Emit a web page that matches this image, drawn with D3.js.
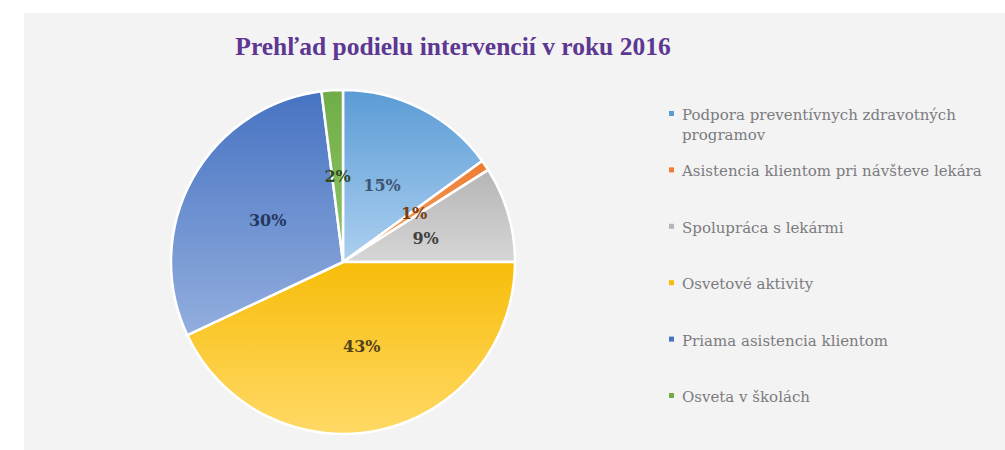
<!DOCTYPE html>
<html>
<head>
<meta charset="utf-8">
<script src="https://cdn.jsdelivr.net/npm/d3@7"></script>
<style>
  body { margin: 0; background: #fff; }
</style>
</head>
<body>
<script>
const categories = [
  'Podpora preventívnych zdravotných programov',
  'Asistencia klientom pri návšteve lekára',
  'Spolupráca s lekármi',
  'Osvetové aktivity',
  'Priama asistencia klientom',
  'Osveta v školách'
];
const values = [15, 1, 9, 43, 30, 2];
const legendLines = [
  ['Podpora preventívnych zdravotných', 'programov'],
  ['Asistencia klientom pri návšteve lekára'],
  ['Spolupráca s lekármi'],
  ['Osvetové aktivity'],
  ['Priama asistencia klientom'],
  ['Osveta v školách']
];

const width = 1005;
const height = 450;
const cx = 343;
const cy = 262;
const radius = 172;

// slice colours: [top, bottom, label]
const colors = [
  ['#5b9bd5', '#acd0f0', '#3d5573'],
  ['#ed7d31', '#f4a26b', '#7a3a10'],
  ['#b5b5b5', '#d6d6d6', '#404040'],
  ['#f7bd0a', '#ffd966', '#54421a'],
  ['#4673c2', '#93aede', '#22385e'],
  ['#70ad47', '#8fc568', '#2f4a1e']
];

const svg = d3.select('body')
  .append('svg')
  .attr('width', width)
  .attr('height', height);

// BACKGROUND
svg.append('rect')
  .attr('x', 24)
  .attr('y', 13)
  .attr('width', width - 24)
  .attr('height', height - 13)
  .attr('fill', '#f3f3f3');

// TITLE
svg.append('text')
  .attr('x', 453)
  .attr('y', 55)
  .attr('text-anchor', 'middle')
  .style('font-family', '"Liberation Serif", "DejaVu Serif", serif')
  .style('font-weight', 'bold')
  .style('font-size', '25.5px')
  .style('fill', '#5d3791')
  .text('Prehľad podielu intervencií v roku 2016');

// GRADIENTS
const defs = svg.append('defs');
colors.forEach((c, i) => {
  const g = defs.append('linearGradient')
    .attr('id', 'grad' + i)
    .attr('x1', 0).attr('y1', 0)
    .attr('x2', 0).attr('y2', 1);
  g.append('stop').attr('offset', '0%').attr('stop-color', c[0]);
  g.append('stop').attr('offset', '100%').attr('stop-color', c[1]);
});

// PIE
const pie = d3.pie().sort(null).value(d => d);
const arcs = pie(values);
const arc = d3.arc().innerRadius(0).outerRadius(radius);
const labelArc = d3.arc().innerRadius(radius * 0.5).outerRadius(radius * 0.5);

const g = svg.append('g').attr('transform', `translate(${cx},${cy})`);

g.selectAll('path')
  .data(arcs)
  .enter()
  .append('path')
  .attr('d', arc)
  .attr('fill', (d, i) => `url(#grad${i})`)
  .attr('stroke', '#ffffff')
  .attr('stroke-width', 2.5)
  .attr('stroke-linejoin', 'round');

g.selectAll('text')
  .data(arcs)
  .enter()
  .append('text')
  .attr('transform', d => `translate(${labelArc.centroid(d)})`)
  .attr('text-anchor', 'middle')
  .attr('dy', '0.35em')
  .style('font-family', '"DejaVu Serif", serif')
  .style('font-weight', 'bold')
  .style('font-size', '16px')
  .style('fill', (d, i) => colors[i][2])
  .text(d => d.data + '%');

// LEGEND
const legendX = 672;
const rowY = d3.scalePoint()
  .domain(categories)
  .range([120, 402]);

const legend = svg.append('g');
categories.forEach((c, i) => {
  const y = rowY(c);
  legend.append('rect')
    .attr('x', legendX - 3)
    .attr('y', y - 9)
    .attr('width', 5)
    .attr('height', 5)
    .attr('fill', colors[i][0]);
  legendLines[i].forEach((line, j) => {
    legend.append('text')
      .attr('x', legendX + 10)
      .attr('y', y + j * 20)
      .style('font-family', '"DejaVu Serif", serif')
      .style('font-size', '15px')
      .style('fill', '#7b7b7f')
      .text(line);
  });
});
</script>
</body>
</html>
